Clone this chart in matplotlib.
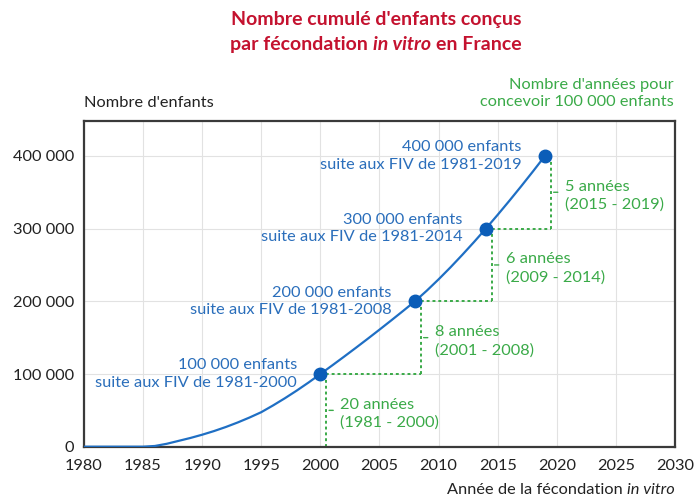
import matplotlib
matplotlib.use("Agg")
import matplotlib.pyplot as plt
from matplotlib.ticker import FuncFormatter

plt.rcParams['font.family'] = ['Lato', 'DejaVu Sans']

# cumulative number of IVF children
years = list(range(1980, 2020))
children = [0, 0, 0, 0, 0, 0, 1000, 4000, 8000, 12000,
            16500, 21500, 27100, 33300, 40100, 47500, 56800, 66700, 77200, 88300,
            100000, 111800, 123800, 136000, 148400, 161000, 173800, 186800, 200000, 214600,
            230200, 246600, 263800, 281600, 300000, 319000, 338500, 358500, 379000, 400000]

milestone_years = [2000, 2008, 2014, 2019]
milestone_children = [100000, 200000, 300000, 400000]
milestone_labels = ["100 000 enfants\nsuite aux FIV de 1981-2000",
                    "200 000 enfants\nsuite aux FIV de 1981-2008",
                    "300 000 enfants\nsuite aux FIV de 1981-2014",
                    "400 000 enfants\nsuite aux FIV de 1981-2019"]
period_labels = ["20 années\n(1981 - 2000)",
                 "8 années\n(2001 - 2008)",
                 "6 années\n(2009 - 2014)",
                 "5 années\n(2015 - 2019)"]
first_birth_year = 1986

x_ticks = list(range(1980, 2031, 5))
y_ticks = [0, 100000, 200000, 300000, 400000]

RED = '#C4122F'
BLUE = '#2A6EBB'
LINE_BLUE = '#1F6FC4'
DOT_BLUE = '#0B5DB8'
GREEN = '#3AAA48'
FS = 11.8


def thousands(v, pos):
    return f"{int(v):,}".replace(",", " ")


def place_pieces(fig, pieces, x, y, ha, **kw):
    # draw a line made of several text styles, aligned as one block
    renderer = fig.canvas.get_renderer()
    fig_w = fig.bbox.width
    gap = 0.27 * kw.get('fontsize', FS) * fig.dpi / 72
    texts = [fig.text(0, y, s, fontstyle=st, va='center', **kw) for s, st in pieces]
    widths = [t.get_window_extent(renderer).width for t in texts]
    total = sum(widths) + gap * (len(texts) - 1)
    cur = x * fig_w - total * {'left': 0, 'center': 0.5, 'right': 1}[ha]
    for t, w in zip(texts, widths):
        t.set_x(cur / fig_w)
        cur += w + gap


def set_up_canvas():
    fig = plt.figure(figsize=(6.94, 4.99), dpi=100)
    ax = fig.add_axes([0.121, 0.1048, 0.8516, 0.6527])

    ax.set_xlim(1980, 2030)
    ax.set_ylim(0, 448000)
    ax.set_xticks(x_ticks)
    ax.set_yticks(y_ticks)
    ax.yaxis.set_major_formatter(FuncFormatter(thousands))

    ax.grid(True, color='#E2E2E2', linewidth=0.8)
    ax.set_axisbelow(True)
    ax.tick_params(length=0, labelsize=FS, colors='#222222')
    ax.tick_params(axis='x', pad=9)
    ax.tick_params(axis='y', pad=7)
    for sp in ax.spines.values():
        sp.set_color('#3A3A3A')
        sp.set_linewidth(1.6)
    return fig, ax


def draw_staircase(ax):
    prev_x, prev_y = first_birth_year, 0
    for yr, val, lab in zip(milestone_years, milestone_children, period_labels):
        xv = yr + 0.5
        ax.plot([prev_x, xv], [prev_y, prev_y], color=GREEN, lw=1.4,
                ls=(0, (1.5, 1.5)), zorder=2)
        ax.plot([xv, xv], [prev_y, val], color=GREEN, lw=1.4,
                ls=(0, (1.5, 1.5)), zorder=2)
        mid = (prev_y + val) / 2
        # small leader dash and label
        ax.annotate('', xy=(xv, mid), xytext=(5, 0), textcoords='offset points',
                    arrowprops=dict(arrowstyle='-', color=GREEN, lw=1,
                                    shrinkA=0, shrinkB=2))
        ax.annotate(lab, xy=(xv, mid), xytext=(10, 0), textcoords='offset points',
                    ha='left', va='center_baseline', color=GREEN, fontsize=FS,
                    linespacing=1.35)
        prev_x, prev_y = yr, val


def visualize():
    fig, ax = set_up_canvas()

    # curve and milestone dots
    ax.plot(years, children, color=LINE_BLUE, lw=1.6, zorder=3)
    ax.plot(milestone_years, milestone_children, 'o', color=DOT_BLUE, ms=9, zorder=4)

    draw_staircase(ax)

    for yr, val, lab in zip(milestone_years, milestone_children, milestone_labels):
        ax.annotate(lab, xy=(yr, val), xytext=(-17, 0), textcoords='offset points',
                    ha='right', va='center', color=BLUE, fontsize=FS,
                    multialignment='right', linespacing=1.3)

    # titles and axis captions
    fig.text(0.5418, 0.96, "Nombre cumulé d'enfants conçus", ha='center', va='center',
             color=RED, fontsize=14, fontweight='bold')
    place_pieces(fig, [("par fécondation", 'normal'), ("in vitro", 'italic'),
                       ("en France", 'normal')],
                 0.5418, 0.9118, 'center', color=RED, fontsize=14, fontweight='bold')
    fig.text(0.121, 0.7936, "Nombre d'enfants", ha='left', va='center',
             fontsize=FS, color='#222222')
    fig.text(0.971, 0.8126, "Nombre d'années pour\nconcevoir 100 000 enfants",
             ha='right', va='center', multialignment='right', fontsize=FS,
             color=GREEN, linespacing=1.25)
    place_pieces(fig, [("Année de la fécondation", 'normal'), ("in vitro", 'italic')],
                 0.9726, 0.018, 'right', color='#222222', fontsize=FS)

    fig.savefig("out.png", dpi=100)


if __name__ == "__main__":
    visualize()
